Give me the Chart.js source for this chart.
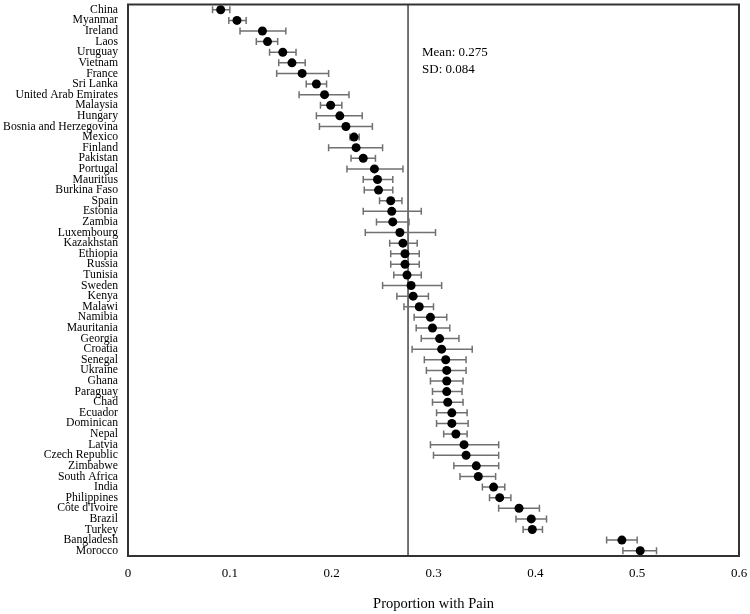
<!DOCTYPE html>
<html><head><meta charset="utf-8">
<script src="https://cdn.jsdelivr.net/npm/chart.js@4/dist/chart.umd.min.js"></script>
<style>html,body{margin:0;padding:0;background:#fff}#wrap{width:750px;height:614px}</style>
</head><body><div id="wrap"><canvas id="c" width="750" height="614"></canvas></div>
<script>
const countries = ["China","Myanmar","Ireland","Laos","Uruguay","Vietnam","France","Sri Lanka","United Arab Emirates","Malaysia","Hungary","Bosnia and Herzegovina","Mexico","Finland","Pakistan","Portugal","Mauritius","Burkina Faso","Spain","Estonia","Zambia","Luxembourg","Kazakhstan","Ethiopia","Russia","Tunisia","Sweden","Kenya","Malawi","Namibia","Mauritania","Georgia","Croatia","Senegal","Ukraine","Ghana","Paraguay","Chad","Ecuador","Dominican","Nepal","Latvia","Czech Republic","Zimbabwe","South Africa","India","Philippines","Côte d'Ivoire","Brazil","Turkey","Bangladesh","Morocco"];
const proportion = [0.091,0.107,0.132,0.137,0.152,0.161,0.171,0.185,0.193,0.199,0.208,0.214,0.222,0.224,0.231,0.242,0.245,0.246,0.258,0.259,0.260,0.267,0.270,0.272,0.272,0.274,0.278,0.280,0.286,0.297,0.299,0.306,0.308,0.312,0.313,0.313,0.313,0.314,0.318,0.318,0.322,0.330,0.332,0.342,0.344,0.359,0.365,0.384,0.396,0.397,0.485,0.503];
const ciLower = [0.083,0.099,0.110,0.126,0.139,0.148,0.146,0.175,0.168,0.189,0.185,0.188,0.218,0.197,0.219,0.215,0.231,0.232,0.247,0.231,0.244,0.233,0.257,0.258,0.258,0.261,0.250,0.264,0.271,0.281,0.283,0.288,0.279,0.291,0.293,0.297,0.299,0.299,0.303,0.303,0.310,0.297,0.300,0.320,0.326,0.348,0.355,0.364,0.381,0.388,0.470,0.486];
const ciUpper = [0.100,0.116,0.155,0.147,0.165,0.174,0.197,0.195,0.217,0.210,0.230,0.240,0.227,0.250,0.243,0.270,0.260,0.260,0.269,0.288,0.276,0.302,0.284,0.286,0.286,0.288,0.308,0.295,0.300,0.313,0.316,0.325,0.338,0.332,0.332,0.329,0.328,0.329,0.333,0.334,0.333,0.364,0.364,0.364,0.361,0.370,0.376,0.404,0.411,0.407,0.500,0.519];
const xTicks = [0,0.1,0.2,0.3,0.4,0.5,0.6];
const meanValue = 0.275;
const sdValue = 0.084;
const xTitle = "Proportion with Pain";

const FONT = "'Liberation Serif', 'Times New Roman', serif";

const forestPlugin = {
  id: 'forest',
  beforeDatasetsDraw(chart) {
    const {ctx, chartArea: a, scales: {x, y}} = chart;
    ctx.save();
    const mx = x.getPixelForValue(meanValue);
    ctx.strokeStyle = '#444';
    ctx.lineWidth = 1.5;
    ctx.beginPath(); ctx.moveTo(mx, a.top); ctx.lineTo(mx, a.bottom); ctx.stroke();
    ctx.strokeStyle = '#707070';
    ctx.lineWidth = 1.5;
    countries.forEach((c, i) => {
      const py = y.getPixelForValue(i);
      const x0 = x.getPixelForValue(ciLower[i]);
      const x1 = x.getPixelForValue(ciUpper[i]);
      ctx.beginPath();
      ctx.moveTo(x0, py); ctx.lineTo(x1, py);
      ctx.moveTo(x0, py - 3.5); ctx.lineTo(x0, py + 3.5);
      ctx.moveTo(x1, py - 3.5); ctx.lineTo(x1, py + 3.5);
      ctx.stroke();
    });
    ctx.restore();
  },
  afterDraw(chart) {
    const {ctx, chartArea: a, scales: {x}} = chart;
    ctx.save();
    ctx.strokeStyle = '#333';
    ctx.lineWidth = 2;
    ctx.strokeRect(a.left, a.top, a.right - a.left, a.bottom - a.top);
    const mx = x.getPixelForValue(meanValue);
    ctx.fillStyle = '#000';
    ctx.font = "13px " + FONT;
    ctx.textAlign = 'left';
    ctx.textBaseline = 'middle';
    ctx.fillText('Mean: ' + meanValue.toFixed(3), mx + 14, a.top + 48);
    ctx.fillText('SD: ' + sdValue.toFixed(3), mx + 14, a.top + 65);
    ctx.restore();
  }
};

new Chart(document.getElementById('c'), {
  type: 'scatter',
  data: {
    datasets: [{
      data: countries.map((c, i) => ({x: proportion[i], y: c})),
      backgroundColor: '#000',
      borderColor: '#000',
      pointRadius: 4.5,
      pointHoverRadius: 4.5,
      borderWidth: 0
    }]
  },
  options: {
    responsive: false,
    animation: false,
    events: [],
    layout: {padding: {top: 4, right: 11, left: 0, bottom: 0}},
    plugins: {legend: {display: false}, tooltip: {enabled: false}},
    scales: {
      x: {
        type: 'linear', min: 0, max: 0.6,
        afterBuildTicks: s => { s.ticks = xTicks.map(v => ({value: v})); },
        afterFit: s => { s.height = 58; s.paddingLeft = 0; s.paddingRight = 0; },
        grid: {display: false, drawTicks: false},
        border: {display: false},
        ticks: {
          color: '#000', padding: 10, maxRotation: 0,
          font: {family: FONT, size: 13},
          callback: v => String(Number(v.toFixed(1)))
        },
        title: {display: true, text: xTitle, color: '#000', font: {family: FONT, size: 14.5}, padding: {top: 0, bottom: 1}}
      },
      y: {
        type: 'category', labels: countries, offset: true,
        afterFit: s => { s.width = 128; s.paddingTop = 0; s.paddingBottom = 0; },
        grid: {display: false, drawTicks: false},
        border: {display: false},
        ticks: {color: '#000', padding: 10, autoSkip: false, font: {family: FONT, size: 11.7}}
      }
    }
  },
  plugins: [forestPlugin]
});
</script></body></html>
